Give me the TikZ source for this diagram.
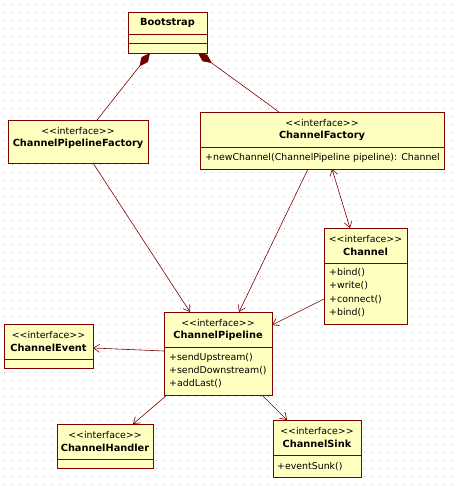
\documentclass[tikz,border=0pt]{standalone}
\usepackage{fontspec}
\setmainfont{DejaVu Sans}
\usetikzlibrary{arrows.meta,calc}
\definecolor{umlfill}{HTML}{FFFFC0}
\definecolor{umlline}{HTML}{800000}
\definecolor{diafill}{HTML}{6E0000}
\definecolor{griddot}{HTML}{B8B8B8}
\newcommand{\stereotxt}{<{}<interface>{}>}
\begin{document}
\begin{tikzpicture}[x=1pt,y=-1pt,
  box/.style={draw=umlline, fill=umlfill, line width=0.9pt, anchor=north west, inner sep=0pt, outer sep=0pt},
  stereo/.style={font=\fontsize{9.4}{11}\selectfont, inner sep=0pt},
  cname/.style={font=\fontsize{9.8}{11}\selectfont\bfseries, inner sep=0pt},
  meth/.style={font=\fontsize{9.4}{11}\selectfont, inner sep=0pt, anchor=west},
  div/.style={draw=umlline, line width=0.9pt},
  link/.style={draw=umlline, line width=0.6pt},
  openarr/.style={-{Straight Barb[length=6pt,width=8pt]}},
  bothopen/.style={{Straight Barb[length=6pt,width=8pt]}-{Straight Barb[length=6pt,width=8pt]}},
  compo/.style={{Diamond[length=17pt,width=8pt,fill=diafill,color=diafill]}-}
]
\useasboundingbox (0,0) rectangle (456,490);
\fill[white] (0,0) rectangle (456,490);
\foreach \i in {0,...,56} {\foreach \j in {0,...,60} {\fill[griddot] ({4+8*\i-0.5},{4+8*\j-0.5}) rectangle ++(1,1);}}

% boxes
\node[box, minimum width=79pt, minimum height=41pt] (boot) at (128,12) {};
\node[box, minimum width=140pt, minimum height=43pt] (cpf) at (8,120) {};
\node[box, minimum width=244pt, minimum height=57pt] (cf) at (200,112) {};
\node[box, minimum width=83pt, minimum height=96pt] (ch) at (324,228) {};
\node[box, minimum width=108pt, minimum height=83pt] (cp) at (164,312) {};
\node[box, minimum width=89pt, minimum height=44pt] (ce) at (4,324) {};
\node[box, minimum width=96pt, minimum height=44pt] (chd) at (57,424) {};
\node[box, minimum width=88pt, minimum height=57pt] (cs) at (273,420) {};

% dividers
\draw[div] ([yshift=-22pt]boot.north west) -- ([yshift=-22pt]boot.north east);
\draw[div] ([yshift=-31pt]boot.north west) -- ([yshift=-31pt]boot.north east);
\draw[div] ([yshift=-35pt]cf.north west) -- ([yshift=-35pt]cf.north east);
\draw[div] ([yshift=-35pt]ch.north west) -- ([yshift=-35pt]ch.north east);
\draw[div] ([yshift=-35pt]cp.north west) -- ([yshift=-35pt]cp.north east);
\draw[div] ([yshift=-35pt]ce.north west) -- ([yshift=-35pt]ce.north east);
\draw[div] ([yshift=-35pt]chd.north west) -- ([yshift=-35pt]chd.north east);
\draw[div] ([yshift=-35pt]cs.north west) -- ([yshift=-35pt]cs.north east);

% texts
\node[cname] (tboot) at (167.5,23) {Bootstrap};
\node[stereo] (scpf) at (78,131) {\stereotxt};
\node[cname] (tcpf) at (78,144) {ChannelPipelineFactory};
\node[stereo] (scf) at (322,123) {\stereotxt};
\node[cname] (tcf) at (322,136) {ChannelFactory};
\node[meth] (mcf) at (205,158) {+newChannel(ChannelPipeline pipeline): Channel};
\node[stereo] (sch) at (365.5,239) {\stereotxt};
\node[cname] (tch) at (365.5,252) {Channel};
\node[meth] (mch1) at (329,273) {+bind()};
\node[meth] (mch2) at (329,286) {+write()};
\node[meth] (mch3) at (329,300) {+connect()};
\node[meth] (mch4) at (329,313) {+bind()};
\node[stereo] (scp) at (218,323) {\stereotxt};
\node[cname] (tcp) at (218,336) {ChannelPipeline};
\node[meth] (mcp1) at (169,358) {+sendUpstream()};
\node[meth] (mcp2) at (169,371) {+sendDownstream()};
\node[meth] (mcp3) at (169,384) {+addLast()};
\node[stereo] (sce) at (48.5,335) {\stereotxt};
\node[cname] (tce) at (48.5,348) {ChannelEvent};
\node[stereo] (schd) at (105,435) {\stereotxt};
\node[cname] (tchd) at (105,448) {ChannelHandler};
\node[stereo] (scs) at (317,431) {\stereotxt};
\node[cname] (tcs) at (317,444) {ChannelSink};
\node[meth] (mcs) at (277,467) {+eventSunk()};

% connectors
\draw[link, compo] ([xshift=22pt]boot.south west) -- ([xshift=89pt]cpf.north west);
\draw[link, compo] ([xshift=70pt]boot.south west) -- ([xshift=79pt]cf.north west);
\draw[link, openarr] ([xshift=85pt]cpf.south west) -- ([xshift=26pt]cp.north west);
\draw[link, openarr] ([xshift=108pt]cf.south west) -- ([xshift=75pt]cp.north west);
\draw[link, bothopen] ([xshift=132pt]cf.south west) -- ([xshift=26pt]ch.north west);
\draw[link, openarr] ([yshift=-71pt]ch.north west) -- ([yshift=-13pt]cp.north east);
\draw[link, openarr] ([yshift=-39pt]cp.north west) -- ([yshift=-24pt]ce.north east);
\draw[link, openarr] ([xshift=3pt]cp.south west) -- ([xshift=76pt]chd.north west);
\draw[link, openarr] ([xshift=98pt]cp.south west) -- ([xshift=14pt]cs.north west);
\end{tikzpicture}
\end{document}
